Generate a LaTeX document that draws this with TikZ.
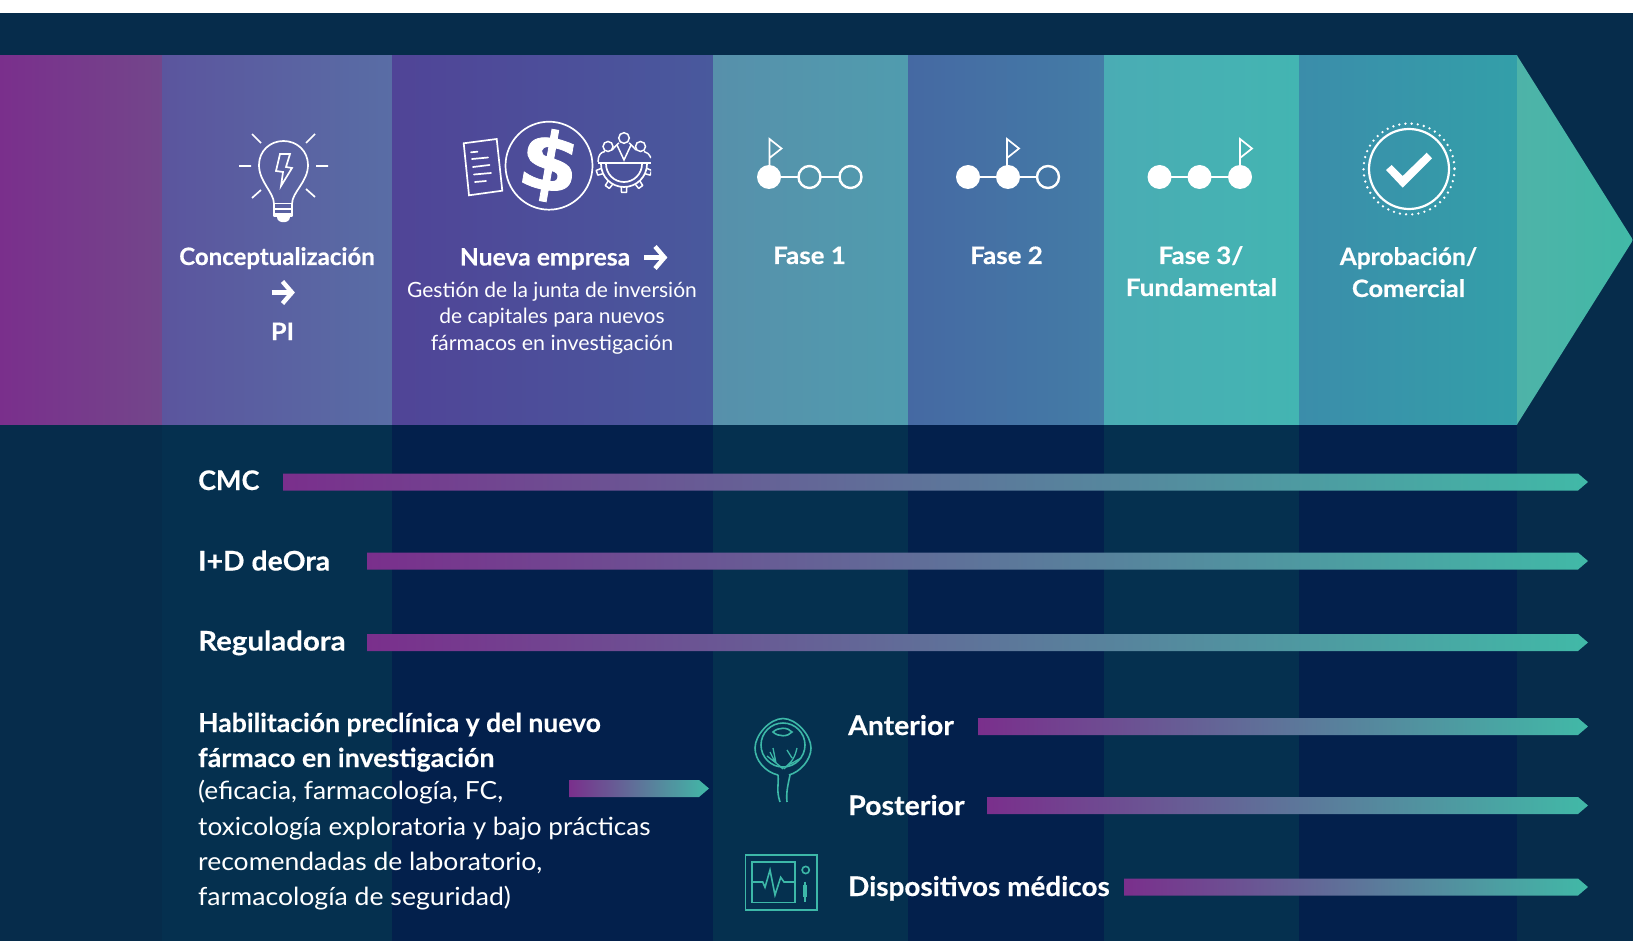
\documentclass[tikz,border=0pt]{standalone}
\usepackage{fontspec}
\setmainfont{Lato}[BoldFeatures={FakeBold=0.35}]
\newfontfamily\dollarfont[FakeBold=1]{DejaVu Sans Bold}
\usetikzlibrary{calc}
\definecolor{base}{HTML}{062C4B}
\definecolor{lowa}{HTML}{05304F}
\definecolor{lowb}{HTML}{03204C}
\definecolor{barL}{HTML}{7A2F8C}
\definecolor{barR}{HTML}{41B9A7}
\definecolor{icon}{HTML}{3DB8A8}
\newcommand{\sx}[2]{\scalebox{#1}[1]{#2}}
\tikzset{
  head/.style={text=white,font=\fontsize{24}{24}\selectfont\bfseries,inner sep=0pt,anchor=base},
  headL/.style={head,anchor=base west},
  big/.style={headL,font=\fontsize{27}{27}\selectfont\bfseries},
  mid/.style={headL,font=\fontsize{26}{26}\selectfont\bfseries},
  bodytxt/.style={text=white,font=\fontsize{21}{21}\selectfont,inner sep=0pt,anchor=base},
  bodyL/.style={text=white,font=\fontsize{25}{25}\selectfont,inner sep=0pt,anchor=base west},
  wline/.style={draw=white,line width=1.7pt},
  dot/.style={circle,fill=white,minimum size=24pt,inner sep=0pt},
  ring/.style={circle,draw=white,line width=2.4pt,minimum size=22pt,inner sep=0pt},
  tealline/.style={draw=icon,line width=1.6pt},
  whitearrow/.style={draw=white,line width=4.4pt,line join=miter},
}
\newcommand{\colband}[4]{\shade[left color=#3,right color=#4] (#1,55.5) rectangle (#2,424.5);}
\newcommand{\lowband}[3]{\fill[#3] (#1,424.5) rectangle (#2,941);}
\newcommand{\gradbar}[3]{\shade[left color=barL,right color=barR] (#1,#3-8.5) -- (#2-10,#3-8.5) -- (#2,#3) -- (#2-10,#3+8.5) -- (#1,#3+8.5) -- cycle;}
\newcommand{\flag}[2]{\draw[wline] (#1,#2) -- (#1,139) -- (#1+12,148.5) -- (#1,158);}
\newcommand{\harrow}[2]{\draw[whitearrow] (#1-11,#2) -- (#1+8,#2); \draw[whitearrow] (#1,#2-11) -- (#1+9.5,#2) -- (#1,#2+11);}
\begin{document}
\begin{tikzpicture}[x=1pt,y=-1pt]
\useasboundingbox (0,0) rectangle (1633,941);
\fill[white] (0,0) rectangle (1633,13);
\fill[base] (0,13) rectangle (1633,941);
% lower bands
\lowband{162}{392}{lowa}
\lowband{392}{713}{lowb}
\lowband{713}{908}{lowa}
\lowband{908}{1104}{lowb}
\lowband{1104}{1299}{lowa}
\lowband{1299}{1517}{lowb}
% chevron
\colband{0}{162}{{rgb,255:red,122;green,47;blue,140}}{{rgb,255:red,115;green,70;blue,139}}
\colband{162}{392}{{rgb,255:red,91;green,85;blue,158}}{{rgb,255:red,89;green,109;blue,165}}
\colband{392}{713}{{rgb,255:red,80;green,68;blue,151}}{{rgb,255:red,73;green,89;blue,157}}
\colband{713}{908}{{rgb,255:red,87;green,144;blue,171}}{{rgb,255:red,80;green,156;blue,174}}
\colband{908}{1104}{{rgb,255:red,69;green,105;blue,163}}{{rgb,255:red,68;green,124;blue,166}}
\colband{1104}{1299}{{rgb,255:red,74;green,172;blue,180}}{{rgb,255:red,67;green,181;blue,178}}
\colband{1299}{1517}{{rgb,255:red,59;green,141;blue,170}}{{rgb,255:red,51;green,159;blue,169}}
\shade[left color={rgb,255:red,78;green,179;blue,168},right color={rgb,255:red,65;green,185;blue,167}] (1517,55.5) -- (1633,240) -- (1517,424.5) -- cycle;

% bulb
\draw[wline] (239,166)--(251,166) (316,166)--(328,166) (252,134)--(261,143) (315,134)--(306,143) (252,198)--(261,190) (315,197)--(306,189);
\draw[wline,line join=round] (274,216) -- (274,204) .. controls (274,192) and (259,182) .. (259,165) .. controls (259,151) and (270,141) .. (283.5,141) .. controls (297,141) and (308,151) .. (308,165) .. controls (308,182) and (292,192) .. (292,204) -- (292,216) -- cycle;
\draw[wline,line width=1.4pt] (274,203.5)--(292,203.5) (274,209)--(292,209) (274,214)--(292,214);
\fill[white] (277,217) -- (290,217) .. controls (290,224) and (277,224) .. (277,217) -- cycle;
\draw[wline,line join=miter] (280,154) -- (290,154) -- (286,167) -- (292,168) -- (281,186) -- (283,172) -- (276,171) -- cycle;
% document
\draw[wline,line join=miter] (463.7,143.3) -- (496.7,139) -- (502.3,190.7) -- (469,195.3) -- cycle;
\draw[wline,line cap=round] (471,152.3) -- (477.5,151.7) (472,159) -- (488,157.5) (473,167) -- (489.5,165) (474,174.5) -- (491,173) (475,182) -- (486,181);
% dollar
\draw[wline] (549,165.7) ellipse [x radius=43.5, y radius=44];
\node[text=white,inner sep=0pt,rotate=-10,font=\fontsize{80}{80}\dollarfont] (dollar) at (549,165.5) {\sx{1.08}{\$}};
% gear and people
\begin{scope}
\clip (590,130) rectangle (651,200);
\draw[wline] (598,163) -- (651,163);
\draw[wline] (601,164) arc[start angle=180,end angle=0,radius=23];
\draw[wline] (606,164) arc[start angle=180,end angle=0,radius=18];
\foreach \a in {18,54,90,126,162}{\draw[wline,line width=1.5pt,line join=round] ($(624,164)+(\a-7:23)$) -- ($(624,164)+(\a-5:28.5)$) -- ($(624,164)+(\a+5:28.5)$) -- ($(624,164)+(\a+7:23)$);}
\draw[wline,line width=1.5pt] (608,146.5) circle (5) (624,138) circle (5.3) (640.5,146.5) circle (5);
\draw[wline,line width=1.5pt] (598,162) .. controls (598,155) and (601,152) .. (605,151.5) (651,158) .. controls (649,154) and (647,152) .. (644,151.5) (612,150) .. controls (615,147) and (617,144) .. (619,143) (636,150) .. controls (633,147) and (631,144) .. (629,143) (617,145) -- (624,160) -- (631,145);
\end{scope}
% flags
\coordinate (fa) at (769,177); \coordinate (fb) at (809.5,177); \coordinate (fc) at (850.5,177);
\draw[wline] (fa) -- (fc);
\node[dot] (f1a) at (fa) {}; \node[ring,fill={rgb,255:red,83;green,150;blue,172}] (f1b) at (fb) {}; \node[ring,fill={rgb,255:red,82;green,152;blue,173}] (f1c) at (fc) {};
\flag{769.5}{170}
\coordinate (ga) at (968,177); \coordinate (gb) at (1008,177); \coordinate (gc) at (1048,177);
\draw[wline] (ga) -- (gc);
\node[dot] (f2a) at (ga) {}; \node[dot] (f2b) at (gb) {}; \node[ring,fill={rgb,255:red,68;green,118;blue,165}] (f2c) at (gc) {};
\flag{1007}{170}
\coordinate (ha) at (1159.5,177); \coordinate (hb) at (1199.5,177); \coordinate (hc) at (1240,177);
\draw[wline] (ha) -- (hc);
\node[dot] (f3a) at (ha) {}; \node[dot] (f3b) at (hb) {}; \node[dot] (f3c) at (hc) {};
\flag{1240}{170}
% approval
\draw[white,line width=2.2pt] (1409,169) circle (40);
\draw[white,line width=2.6pt,line cap=round,dash pattern=on 0pt off 6.2pt] (1409,169) circle (45.5);
\fill[white] (1386,170) -- (1391.7,165) -- (1402.7,176) -- (1426.7,152.7) -- (1432,158.3) -- (1402.7,187.7) -- cycle;

% header texts
\node[head] (t1) at (277,265) {Conceptualización};
\harrow{282.5}{292.5}
\node[head] (t2) at (282.5,340) {\sx{1.05}{PI}};
\node[head] (t3) at (545,265.5) {\sx{1.03}{Nueva empresa}};
\harrow{655}{257.5}
\node[bodytxt] (b1) at (552,297.5) {\sx{1.0}{Gestión de la junta de inversión}};
\node[bodytxt] (b2) at (552,323.5) {de capitales para nuevos};
\node[bodytxt] (b3) at (552,350) {\sx{1.02}{fármacos en investigación}};
\node[head] (t4) at (809.5,264) {\sx{1.08}{Fase 1}};
\node[head] (t5) at (1006.5,264) {\sx{1.08}{Fase 2}};
\node[head] (t6) at (1201,264) {\sx{1.08}{Fase 3/}};
\node[head] (t7) at (1201.5,296) {\sx{1.09}{Fundamental}};
\node[head] (t8) at (1408.5,265) {\sx{1.02}{Aprobación/}};
\node[head] (t9) at (1408.5,297) {\sx{1.06}{Comercial}};

% bars
\node[big] (cmc) at (198,490) {CMC};
\gradbar{283}{1588}{482}
\node[big] (id) at (198,570.5) {\sx{1.05}{I+D deOra}};
\gradbar{367}{1588}{561}
\node[big] (reg) at (198,650.5) {\sx{1.09}{Reguladora}};
\gradbar{367}{1588}{642.5}
\node[mid] (h1) at (198,732) {\sx{1.02}{Habilitación preclínica y del nuevo}};
\node[mid] (h2) at (198,767) {\sx{1.03}{fármaco en investigación}};
\node[bodyL] (h3) at (198,799.5) {\sx{1.055}{(eficacia, farmacología, FC,}};
\node[bodyL] (h4) at (198,835) {\sx{1.046}{toxicología exploratoria y bajo prácticas}};
\node[bodyL] (h5) at (198,870) {\sx{1.06}{recomendadas de laboratorio,}};
\node[bodyL] (h6) at (198,905) {\sx{1.065}{farmacología de seguridad)}};
\gradbar{569}{709}{788.5}
\node[big] (ant) at (848,735) {\sx{1.05}{Anterior}};
\gradbar{978}{1588}{726.5}
\node[big] (pos) at (848,815) {\sx{1.055}{Posterior}};
\gradbar{987}{1588}{805.5}
\node[big] (dis) at (848,896) {\sx{1.033}{Dispositivos médicos}};
\gradbar{1124}{1588}{887}

% eye icon
\draw[tealline] (778,775) .. controls (765,772) and (755,760) .. (755,748) .. controls (755,735) and (770,718.5) .. (783,718.5) .. controls (796,718.5) and (811,735) .. (811,748) .. controls (811,760) and (800,772) .. (789,775);
\draw[tealline] (783,745) circle (22);
\draw[tealline] (773,732) .. controls (778,727) and (788,727) .. (792,732) .. controls (788,737) and (778,737) .. (773,732) -- cycle;
\draw[tealline] (778,775) .. controls (779,785) and (776,790) .. (780,802) (790,775) .. controls (788,785) and (786,792) .. (787,802);
\draw[tealline,line width=1.3pt] (783,769) .. controls (778,764) and (772,760) .. (767,756) (776,763) -- (773,748) (775,762) -- (770,752) (784,769) .. controls (788,764) and (794,762) .. (797,748) (788,765) .. controls (793,763) and (797,760) .. (801,758) (792,758) -- (787,750);
% monitor icon
\draw[tealline] (745.5,854.7) rectangle (816.7,909.7);
\draw[tealline] (751.7,861.7) rectangle (794.7,902.3);
\draw[tealline,line join=miter] (751.7,882) -- (762.7,882) -- (765,887.3) -- (770,870) -- (775,895) -- (780.7,877.3) -- (784,882) -- (794.7,882);
\draw[tealline] (805.7,870) circle (3.6);
\fill[icon] (803.3,885) rectangle (807.3,896.5);
\draw[tealline] (805,881.5) -- (805,902);
\end{tikzpicture}
\end{document}
